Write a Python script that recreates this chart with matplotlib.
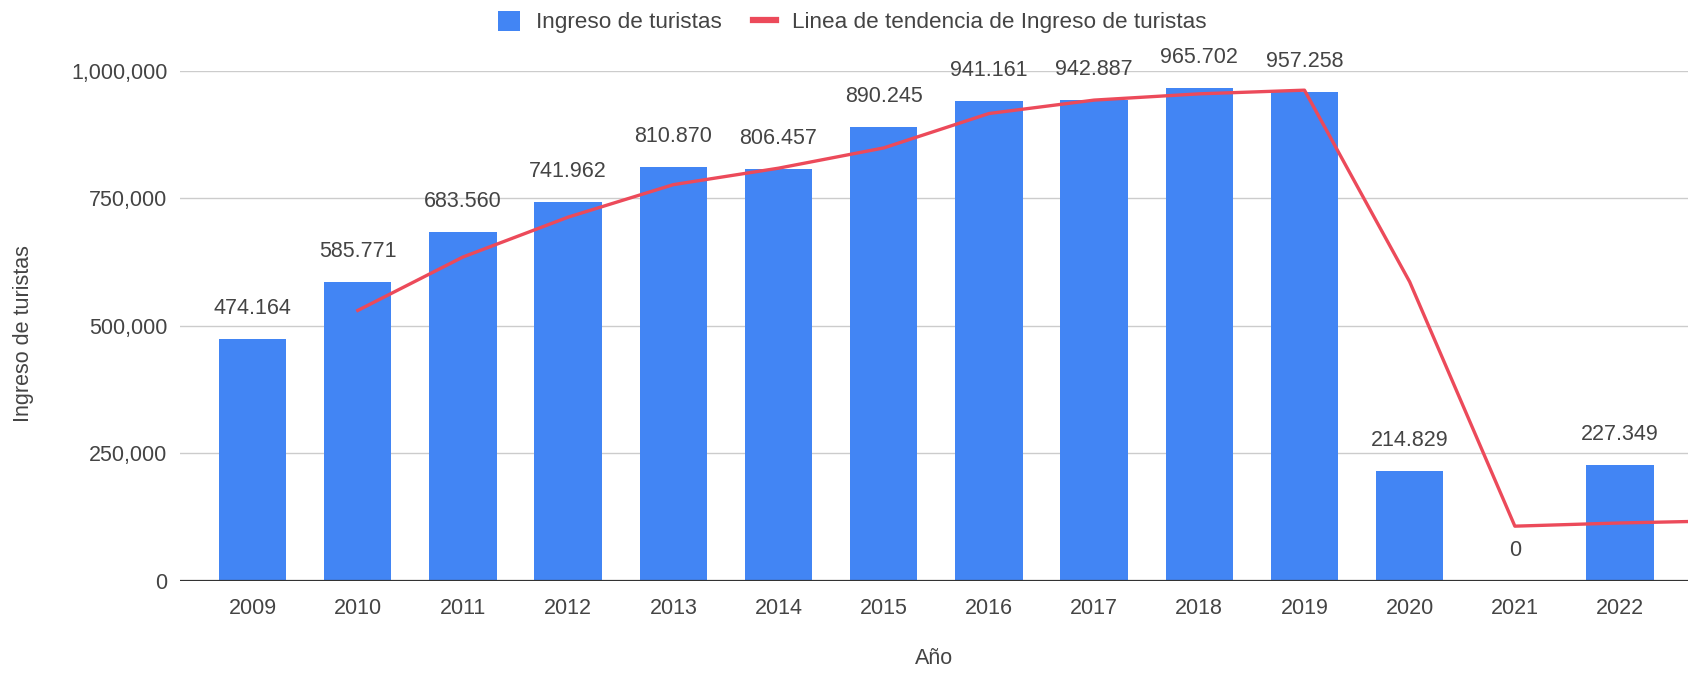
import matplotlib
matplotlib.use("Agg")
import matplotlib.pyplot as plt
from matplotlib.lines import Line2D
from matplotlib.patches import Patch

plt.rcParams['font.family'] = ['Liberation Sans', 'DejaVu Sans']

years = ['2009', '2010', '2011', '2012', '2013', '2014', '2015', '2016',
         '2017', '2018', '2019', '2020', '2021', '2022']
visitors = [474164, 585771, 683560, 741962, 810870, 806457, 890245, 941161,
            942887, 965702, 957258, 214829, 0, 227349]
value_labels = ['474.164', '585.771', '683.560', '741.962', '810.870', '806.457',
                '890.245', '941.161', '942.887', '965.702', '957.258', '214.829',
                '0', '227.349']
# trend line points (2010 .. 2023; the 2023 point lies beyond the visible edge)
trend_years = ['2010', '2011', '2012', '2013', '2014', '2015', '2016', '2017',
               '2018', '2019', '2020', '2021', '2022', '2023']
trend = [529967, 634665, 712761, 776416, 808663, 848351, 915703, 942024,
         954294, 961480, 586043, 107414, 113674, 118000]
y_ticks = [0, 250000, 500000, 750000, 1000000]
y_ticklabels = ['0', '250,000', '500,000', '750,000', '1,000,000']

W, H = 1688, 673
fig = plt.figure(figsize=(W / 100, H / 100), dpi=100)
ax_left, ax_right, ax_top, ax_bottom = 180, 1688, 70.5, 581
ax = fig.add_axes([ax_left / W, (H - ax_bottom) / H,
                   (ax_right - ax_left) / W, (ax_bottom - ax_top) / H])

bar_color = '#4285F4'
line_color = '#EC4A5A'
text_color = '#444444'
fs = 15.5

x = list(range(len(years)))
ax.bar(x, visitors, width=0.64, color=bar_color, zorder=2)

tx = [years.index(y) if y in years else len(years) + (int(y) - int(years[-1]) - 1)
      for y in trend_years]
ax.plot(tx, trend, color=line_color, lw=2.4, zorder=3, solid_joinstyle='round')

for xi, v, lab in zip(x, visitors, value_labels):
    ax.annotate(lab, (xi, v), xytext=(0, 25), textcoords='offset pixels',
                ha='center', va='baseline', fontsize=fs, color=text_color,
                annotation_clip=False)

ax.set_xlim(-0.69, 13.646)
ax.set_ylim(0, 1000000)
ax.set_xticks(x)
ax.set_xticklabels(years, fontsize=fs, color=text_color)
ax.set_yticks(y_ticks)
ax.set_yticklabels(y_ticklabels, fontsize=fs, color=text_color)
ax.tick_params(axis='both', length=0)
ax.tick_params(axis='x', pad=12)
ax.tick_params(axis='y', pad=9)
for s in ax.spines.values():
    s.set_visible(False)
ax.yaxis.grid(True, color='#CCCCCC', lw=1.0, zorder=0)
ax.set_axisbelow(True)
ax.axhline(0, color='#333333', lw=1.6, zorder=4)

fig.text(934 / W, 1 - 659 / H, 'Año', ha='center', va='center',
         fontsize=fs, color=text_color)
fig.text(24 / W, 1 - 334 / H, 'Ingreso de turistas', ha='center', va='center',
         rotation=90, fontsize=fs, color=text_color)

handles = [Patch(facecolor=bar_color, edgecolor='none'),
           Line2D([0], [0], color=line_color, lw=4.5)]
leg = fig.legend(handles, ['Ingreso de turistas', 'Linea de tendencia de Ingreso de turistas'],
                 loc='center', bbox_to_anchor=(852 / W, 1 - 22 / H), ncol=2,
                 frameon=False, fontsize=16.2, handlelength=1.0, handleheight=1.0,
                 handletextpad=0.7, columnspacing=1.4, labelcolor=text_color)

fig.savefig('out.png', dpi=100)
